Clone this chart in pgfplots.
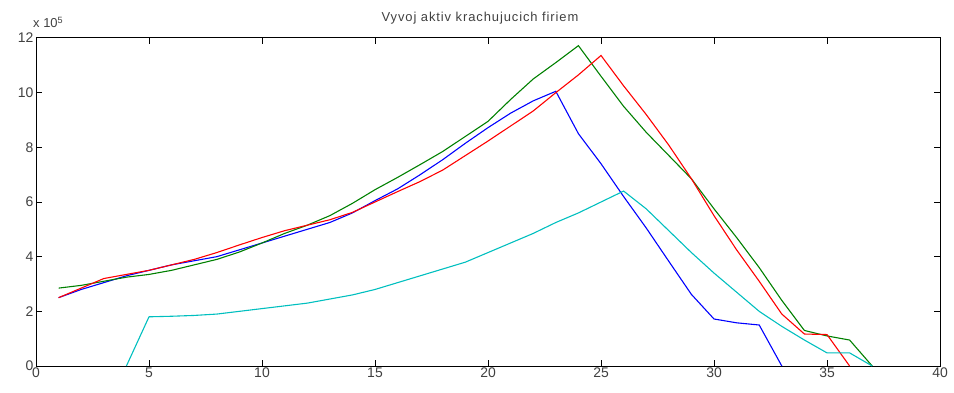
\documentclass[border=0pt]{standalone}
\usepackage{pgfplots}
\pgfplotsset{compat=1.18}
\usepackage{fontspec}
\setmainfont{Liberation Sans}
\definecolor{mgreen}{rgb}{0,0.5,0}
\definecolor{mcyan}{rgb}{0,0.75,0.75}
\definecolor{lbl}{gray}{0.25}
\begin{document}
\begin{tikzpicture}[x=1bp,y=1bp]
\path[use as bounding box] (0,0) rectangle (954,392);
\begin{axis}[
  at={(36bp,26bp)}, anchor=south west,
  width=904bp, height=328bp, scale only axis,
  xmin=0, xmax=40, ymin=0, ymax=12,
  xtick={0,5,...,40}, ytick={0,2,...,12},
  tick align=inside, major tick length=6bp,
  tick style={black, line width=1pt},
  axis line style={black, line width=1pt},
  ticklabel style={font=\fontsize{14}{16}\selectfont, text=lbl},
  yticklabel style={xshift=1bp},
  xticklabel style={yshift=2bp},
  /pgf/number format/assume math mode=true,
  title={\addfontfeature{LetterSpace=7}Vyvoj aktiv krachujucich firiem},
  title style={font=\fontsize{13}{15}\selectfont, text=lbl, yshift=4bp, xshift=-8bp},
  every axis plot/.append style={line width=1.1pt, no markers},
  clip=true,
]
\addplot[blue] coordinates {(1,2.5)(2,2.8)(3,3.05)(4,3.3)(5,3.5)(6,3.7)(7,3.85)(8,4.0)(9,4.25)(10,4.5)(11,4.75)(12,5.0)(13,5.25)(14,5.6)(15,6.05)(16,6.48)(17,7.0)(18,7.55)(19,8.15)(20,8.72)(21,9.25)(22,9.7)(23,10.05)(24,8.5)(25,7.4)(26,6.2)(27,5.05)(28,3.83)(29,2.62)(30,1.72)(31,1.58)(32,1.5)(33,0)};
\addplot[mgreen] coordinates {(1,2.85)(2,2.95)(3,3.1)(4,3.25)(5,3.35)(6,3.5)(7,3.7)(8,3.9)(9,4.17)(10,4.5)(11,4.85)(12,5.15)(13,5.5)(14,5.95)(15,6.45)(16,6.9)(17,7.37)(18,7.85)(19,8.4)(20,8.95)(21,9.75)(22,10.5)(23,11.1)(24,11.72)(25,10.6)(26,9.5)(27,8.55)(28,7.7)(29,6.85)(30,5.75)(31,4.7)(32,3.6)(33,2.4)(34,1.3)(35,1.1)(36,0.95)(37,0)};
\addplot[red] coordinates {(1,2.5)(2,2.85)(3,3.2)(4,3.35)(5,3.5)(6,3.7)(7,3.9)(8,4.15)(9,4.43)(10,4.7)(11,4.95)(12,5.15)(13,5.35)(14,5.62)(15,6.0)(16,6.38)(17,6.75)(18,7.17)(19,7.7)(20,8.23)(21,8.78)(22,9.33)(23,10.0)(24,10.65)(25,11.36)(26,10.25)(27,9.2)(28,8.08)(29,6.85)(30,5.5)(31,4.25)(32,3.1)(33,1.9)(34,1.17)(35,1.15)(36,0)};
\addplot[mcyan] coordinates {(4,0)(5,1.8)(6,1.82)(7,1.85)(8,1.9)(9,2.0)(10,2.1)(11,2.2)(12,2.3)(13,2.45)(14,2.6)(15,2.8)(16,3.05)(17,3.3)(18,3.55)(19,3.8)(20,4.15)(21,4.5)(22,4.85)(23,5.25)(24,5.6)(25,6.0)(26,6.4)(27,5.75)(28,4.95)(29,4.15)(30,3.4)(31,2.7)(32,2.0)(33,1.45)(34,0.95)(35,0.48)(36,0.48)(37,0)};
\end{axis}
\node[anchor=south west, font=\fontsize{13}{15}\selectfont, text=lbl, inner sep=0pt] at (33,364) {x 10$^{\mathrm{5}}$};
\end{tikzpicture}
\end{document}
